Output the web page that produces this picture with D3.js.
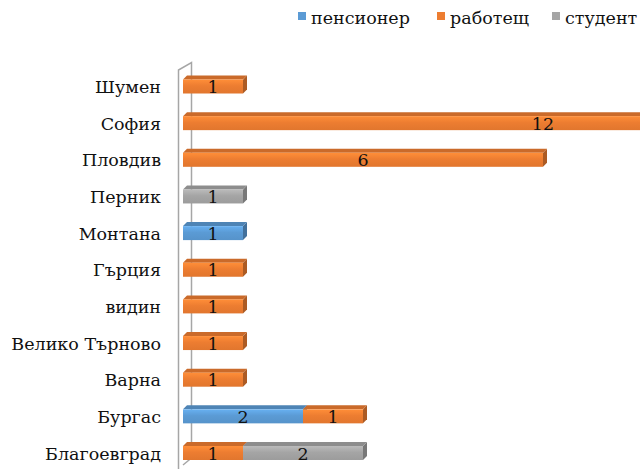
<!DOCTYPE html>
<html>
<head>
<meta charset="utf-8">
<script src="https://cdn.jsdelivr.net/npm/d3@7"></script>
<style>
  body { margin: 0; background: #fff; overflow: hidden; }
  text { font-family: "DejaVu Serif", "Liberation Serif", serif; }
</style>
</head>
<body>
<div id="app"></div>
<script>
// data, top to bottom
var categories = ['Шумен', 'София', 'Пловдив', 'Перник', 'Монтана', 'Гърция', 'видин',
                  'Велико Търново', 'Варна', 'Бургас', 'Благоевград'];
var seriesNames = ['пенсионер', 'работещ', 'студент'];
var pensioner = [0, 0, 0, 0, 1, 0, 0, 0, 0, 2, 0];
var working   = [1, 12, 6, 0, 0, 1, 1, 1, 1, 1, 1];
var student   = [0, 0, 0, 1, 0, 0, 0, 0, 0, 0, 2];
var seriesColors = ['#5b9bd5', '#ed7d31', '#a5a5a5'];

var width = 640, height = 469;
var depth = 4, barH = 14;
var fs = 17.5;

var rows = categories.map(function (c, i) {
    return { cat: c, 'пенсионер': pensioner[i], 'работещ': working[i], 'студент': student[i] };
});
var stacked = d3.stack().keys(seriesNames)(rows);

var svg = d3.select('#app').append('svg').attr('width', width).attr('height', height);

var x = d3.scaleLinear().domain([0, 12]).range([183, 903]);
var y = d3.scalePoint().domain(categories).range([86.5, 453]);
var color = d3.scaleOrdinal().domain(seriesNames).range(seriesColors);

// front face gradients
var defs = svg.append('defs');
seriesNames.forEach(function (s, i) {
    var base = d3.color(seriesColors[i]);
    var g = defs.append('linearGradient').attr('id', 'grad' + i)
        .attr('x1', 0).attr('y1', 0).attr('x2', 0).attr('y2', 1);
    g.append('stop').attr('offset', '0%').attr('stop-color', base.brighter(0.35));
    g.append('stop').attr('offset', '45%').attr('stop-color', base);
    g.append('stop').attr('offset', '100%').attr('stop-color', base.darker(0.15));
});

// side wall
svg.append('path')
    .attr('d', 'M178.5,470 L178.5,70 L191.5,62.5 L191.5,458 L183,465')
    .attr('fill', 'none').attr('stroke', '#a6a6a6').attr('stroke-width', 1.5);

// bars
var layer = svg.append('g');
stacked.forEach(function (ser, si) {
    var base = d3.color(seriesColors[si]);
    ser.forEach(function (d, i) {
        if (d[1] - d[0] <= 0) return;
        var x0 = x(d[0]), x1 = x(d[1]);
        var top = y(categories[i]) - barH / 2, bot = top + barH;
        var g = layer.append('g');
        g.append('path')
            .attr('d', 'M' + x1 + ',' + top + 'L' + (x1 + depth) + ',' + (top - depth) +
                'L' + (x1 + depth) + ',' + (bot - depth) + 'L' + x1 + ',' + bot + 'Z')
            .attr('fill', base.darker(0.9));
        g.append('path')
            .attr('d', 'M' + x0 + ',' + top + 'L' + (x0 + depth) + ',' + (top - depth) +
                'L' + (x1 + depth) + ',' + (top - depth) + 'L' + x1 + ',' + top + 'Z')
            .attr('fill', base.darker(0.45));
        g.append('rect')
            .attr('x', x0).attr('y', top).attr('width', x1 - x0).attr('height', barH)
            .attr('fill', 'url(#grad' + si + ')');
    });
});

// data labels
stacked.forEach(function (ser) {
    ser.forEach(function (d, i) {
        var v = d[1] - d[0];
        if (v <= 0) return;
        svg.append('text')
            .attr('x', (x(d[0]) + x(d[1])) / 2)
            .attr('y', y(categories[i]) + 6.5)
            .attr('text-anchor', 'middle')
            .attr('font-size', fs)
            .attr('fill', '#111')
            .text(v);
    });
});

// category labels
svg.append('g').selectAll('text').data(categories).enter().append('text')
    .attr('x', 161)
    .attr('y', function (d) { return y(d) + 6.5; })
    .attr('text-anchor', 'end')
    .attr('font-size', fs)
    .attr('fill', '#111')
    .text(function (d) { return d; });

// legend
var legX = [298, 437, 552];
var leg = svg.append('g').selectAll('g').data(seriesNames).enter().append('g')
    .attr('transform', function (d, i) { return 'translate(' + legX[i] + ',0)'; });
leg.append('rect').attr('x', 0).attr('y', 12).attr('width', 8).attr('height', 8)
    .attr('fill', function (d) { return color(d); });
leg.append('text').attr('x', 13).attr('y', 23.5)
    .attr('font-size', fs).attr('fill', '#111')
    .text(function (d) { return d; });
</script>
</body>
</html>
